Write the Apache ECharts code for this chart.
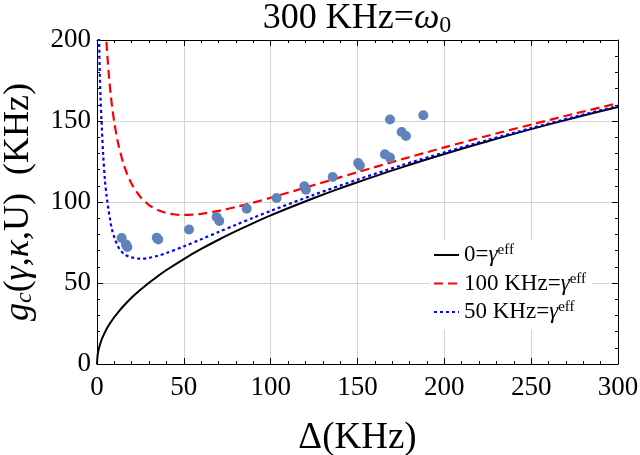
<!DOCTYPE html>
<html>
<head>
<meta charset="utf-8">
<script src="https://cdn.jsdelivr.net/npm/echarts@6/dist/echarts.min.js"></script>
<style>html,body{margin:0;padding:0;background:#fff;}#c{width:640px;height:455px;}</style>
</head>
<body>
<div id="c"></div>
<script>
// ---- data ----
const blackX = [0, 0.3, 0.7, 1.2, 2, 3, 4, 5, 6.5, 8, 10, 12.5, 15, 20, 25, 30, 35, 40, 50, 60, 70, 80, 90, 100, 112.5, 125, 137.5, 150, 175, 200, 225, 250, 275, 300];
const blackY = [0, 5, 7.7, 10, 13, 15.9, 18.3, 20.5, 23.4, 25.9, 29, 32.4, 35.5, 41, 45.8, 50.2, 54.2, 58, 64.8, 71, 76.7, 82, 87, 91.7, 97.2, 102.5, 107.5, 112.2, 121.2, 129.6, 137.5, 145, 152, 158.7];

const redX = [5, 5.4, 6, 7, 8, 9, 10, 12, 15, 17.5, 20, 25, 30, 35, 40, 45, 50, 55, 60, 70, 80, 90, 100, 125, 150, 175, 200, 225, 250, 275, 300];
const redY = [207.5, 200, 189.8, 176.2, 165.3, 156.3, 148.9, 137, 124.4, 116.9, 111.1, 103.1, 98.1, 95.1, 93.2, 92.3, 92, 92.2, 92.7, 94.5, 96.9, 99.6, 102.6, 110.5, 118.4, 126.2, 133.7, 140.9, 147.8, 154.5, 161];

const blueX = [1.1, 1.3, 1.6, 2, 2.7, 3.5, 4.6, 5.5, 6.5, 7.5, 8.4, 10, 11.5, 13, 16, 20, 25, 30, 35, 40, 50, 60, 70, 80, 90, 100, 125, 150, 175, 200, 225, 250, 275, 300];
const blueY = [205, 195, 180, 165, 148, 130, 113, 104, 96, 89.5, 84, 78, 74, 71, 67.5, 65.8, 65, 65.5, 66.8, 68.5, 72.6, 77, 81.5, 85.9, 90.3, 94.5, 104.5, 113.8, 122.5, 130.6, 138.3, 145.6, 152.6, 159.3];

const ptX = [14.2, 16.7, 17.5, 34.4, 35.3, 53, 68.9, 70.4, 86.2, 103.4, 119.4, 120.3, 135.7, 150.4, 151.4, 165.8, 168.7, 168.7, 175.4, 177.9, 187.9];
const ptY = [77.8, 73.7, 72.2, 78, 76.8, 83, 90.7, 88.3, 95.9, 102.5, 109.7, 107.6, 115.4, 124.1, 122.5, 129.4, 127.4, 150.9, 143.2, 140.7, 153.5];

const xTicks = [0, 50, 100, 150, 200, 250, 300];
const yTicks = [0, 50, 100, 150, 200];

const legendNames = {
  k0: '{m|0=}{g|γ}{s|eff}',
  k100: '{m|100 KHz=}{g|γ}{s|eff}',
  k50: '{m|50 KHz=}{g|γ}{s|eff}'
};

const pair = (xs, ys) => xs.map((x, i) => [x, ys[i]]);
const F = '"Liberation Serif", "DejaVu Serif", serif';

const chart = echarts.init(document.getElementById('c'), null, {renderer: 'canvas'});

const baseAxis = (pos, show, ticks) => ({
  type: 'value',
  position: pos,
  min: ticks[0],
  max: ticks[ticks.length - 1],
  interval: 50,
  axisLine: {show: true, onZero: false, lineStyle: {color: '#000', width: 1}},
  axisTick: {show: true, inside: true, length: 6, lineStyle: {color: '#000', width: 1}},
  minorTick: {show: true, splitNumber: 5, length: 3, lineStyle: {color: '#000', width: 1}},
  splitLine: {show: show, lineStyle: {color: '#d4d4d4', width: 1}},
  axisLabel: {show: show, fontFamily: F, fontSize: 27, color: '#000'}
});

const xMain = Object.assign(baseAxis('bottom', true, xTicks), {
  name: 'Δ(KHz)',
  nameLocation: 'middle',
  nameGap: 56,
  nameTextStyle: {fontFamily: F, fontSize: 37, color: '#000'}
});
xMain.axisLabel.margin = 10;

const yMain = Object.assign(baseAxis('left', true, yTicks), {
  name: '{i|g}{sub|c}{n|(}{i|γ}{n|,}{i|κ}{n|,U)  (KHz)}',
  nameLocation: 'middle',
  nameGap: 60,
  nameRotate: 90,
  nameTextStyle: {
    color: '#000',
    rich: {
      i: {fontFamily: F, fontSize: 36, fontStyle: 'italic', color: '#000'},
      n: {fontFamily: F, fontSize: 36, color: '#000'},
      sub: {fontFamily: F, fontSize: 24, fontStyle: 'italic', color: '#000', verticalAlign: 'bottom', lineHeight: 22}
    }
  }
});
yMain.axisLabel.margin = 6;

const option = {
  animation: false,
  backgroundColor: '#fff',
  title: {
    text: '{a|300 KHz=}{w|ω}{b|0}',
    left: 357,
    top: 0,
    padding: 0,
    textAlign: 'center',
    textStyle: {
      fontWeight: 'normal',
      rich: {
        a: {fontFamily: F, fontSize: 36, fontWeight: 'normal', color: '#000', lineHeight: 38},
        w: {fontFamily: F, fontSize: 36, fontWeight: 'normal', fontStyle: 'italic', color: '#000', lineHeight: 38},
        b: {fontFamily: F, fontSize: 24, fontWeight: 'normal', color: '#000', verticalAlign: 'bottom', lineHeight: 30}
      }
    }
  },
  grid: {left: 97, right: 22, top: 40, bottom: 91, containLabel: false, outerBoundsMode: 'none'},
  xAxis: [xMain, baseAxis('top', false, xTicks)],
  yAxis: [yMain, baseAxis('right', false, yTicks)],
  legend: {
    data: ['k0', 'k100', 'k50'],
    orient: 'vertical',
    left: 430,
    top: 240,
    itemWidth: 25,
    itemHeight: 14,
    itemGap: 5,
    padding: [3, 6, 6, 3],
    backgroundColor: '#fff',
    itemStyle: {opacity: 0, borderWidth: 0},
    formatter: n => legendNames[n],
    textStyle: {
      rich: {
        m: {fontFamily: F, fontSize: 23, color: '#000', lineHeight: 24},
        g: {fontFamily: F, fontSize: 23, fontStyle: 'italic', color: '#000', lineHeight: 24},
        s: {fontFamily: F, fontSize: 15, color: '#000', verticalAlign: 'top', lineHeight: 14}
      }
    }
  },
  series: [
    {
      name: 'k0', type: 'line', data: pair(blackX, blackY), symbol: 'none',
      smooth: 0.3,
      lineStyle: {color: '#000', width: 2}, itemStyle: {color: '#000'}, z: 3
    },
    {
      name: 'k100', type: 'line', data: pair(redX, redY), symbol: 'none',
      smooth: 0.3,
      lineStyle: {color: '#ff0000', width: 2.2, type: [9, 5]}, itemStyle: {color: '#ff0000'}, z: 3
    },
    {
      name: 'k50', type: 'line', data: pair(blueX, blueY), symbol: 'none',
      smooth: 0.3,
      lineStyle: {color: '#0000ff', width: 2.2, type: [3, 3]}, itemStyle: {color: '#0000ff'}, z: 3
    },
    {
      name: 'pts', type: 'scatter', data: pair(ptX, ptY), symbolSize: 10,
      itemStyle: {color: '#5f83ba', opacity: 1}, z: 4
    }
  ]
};
chart.setOption(option);
</script>
</body>
</html>
